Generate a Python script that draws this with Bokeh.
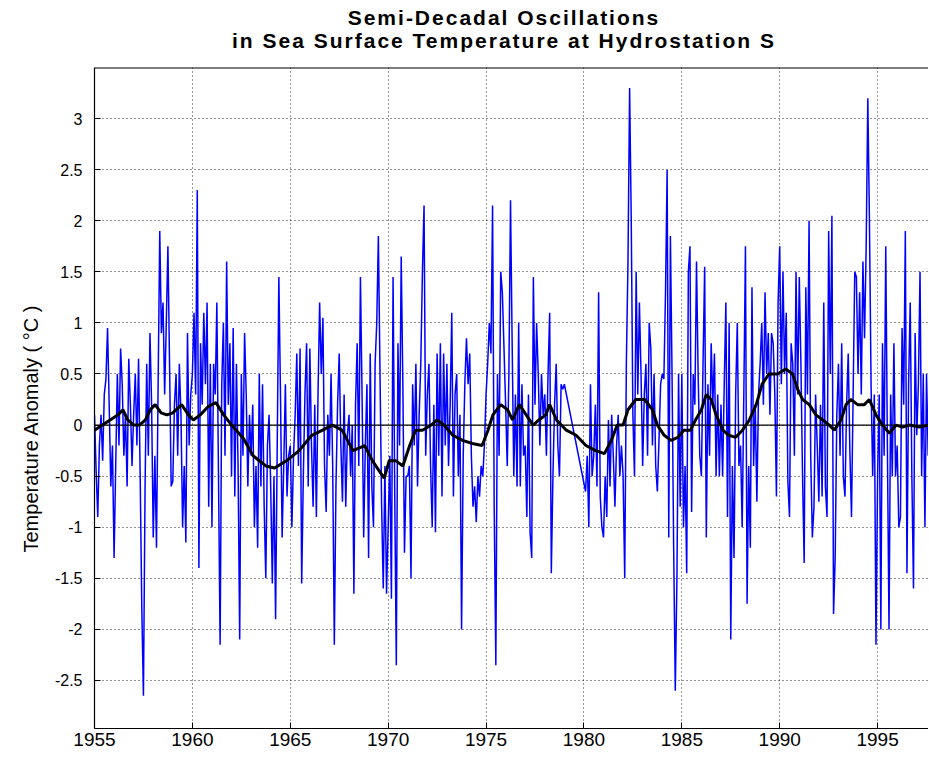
import math
from bokeh.plotting import figure
from bokeh.models import Range1d, FixedTicker, Span, Title, Div
from bokeh.layouts import column
from bokeh.embed import file_html
from bokeh.resources import INLINE

# ---------------- data ----------------
first_year = 1955
samples_per_year = 12  # monthly values, None = no sample

sst_anomaly = [
    # 1955
    0.1, -0.45, -0.9, -0.2, 0.1, -0.35, 0.3, 0.45, 0.95, 0.2, -0.6, -0.2,
    # 1956
    -1.3, -0.4, 0.5, -0.2, 0.75, 0.4, -0.3, 0.1, -0.6, 0.65, 0.2, -0.4,
    # 1957
    0.1, 0.5, -0.2, 0.65, -0.5, -1.8, -2.65, -0.6, 0.6, -0.3, 0.9, 0.2,
    # 1958
    -1.1, -0.3, -1.2, 0.4, 1.9, 0.9, 1.2, 0.3, 1.0, 1.75, 0.6, -0.6,
    # 1959
    -0.55, 0.2, 0.5, -0.3, 0.6, 0.1, -1.0, -0.4, -1.15, 0.9, -0.2, 0.3,
    # 1960
    0.5, 1.1, 0.3, 2.3, -1.4, 0.8, 0.2, 1.1, 0.4, 1.2, -0.8, 0.6,
    # 1961
    -1.0, 0.6, 0.3, 1.2, -0.5, -2.15, 0.4, 1.0, -0.3, 1.6, 0.2, 0.8,
    # 1962
    -0.5, 0.95, -0.7, 0.6, -0.4, -2.1, 0.5, -0.3, 0.9, 0.3, -0.6, 0.1,
    # 1963
    -0.3, 0.2, -1.0, -0.4, -1.2, 0.5, -0.6, 0.4, -0.8, -1.5, -0.2, 0.1,
    # 1964
    -0.6, -1.55, -0.5, -1.9, -0.2, 1.45, 0.3, -1.1, -0.4, 0.4, -0.7, -0.3,
    # 1965
    -0.2, -1.0, -0.3, 0.1, 0.7, -0.4, 0.75, -1.55, -0.5, 0.3, 0.8, -0.6,
    # 1966
    0.75, -0.2, -0.8, 0.2, -0.9, 0.3, 1.2, 0.5, 1.05, -0.4, -0.85, 0.1,
    # 1967
    -0.3, 0.5, -0.4, -2.15, -0.6, 0.2, 0.7, -0.2, -0.75, 0.3, -0.8, -0.1,
    # 1968
    0.1, -0.5, 0.0, -1.65, 0.2, 0.8, -0.4, 1.45, 0.3, -1.1, -0.2, 0.4,
    # 1969
    -1.3, 0.7, -0.6, -1.0, 0.6, 1.0, 1.85, 0.5, -0.8, -1.6, -0.4, -1.65,
    # 1970
    -1.0, -0.3, -1.7, 1.45, -0.6, -2.35, 0.8, -0.2, 1.65, 0.4, -1.25, -0.5,
    # 1971
    -0.5, -0.4, -1.5, 0.4, -0.2, 0.6, -0.6, 0.1, 0.6, 1.5, 2.15, -0.3,
    # 1972
    0.3, 0.6, -0.4, -1.0, 0.2, -1.05, 0.7, -0.3, 0.8, -0.7, 0.7, -0.2,
    # 1973
    0.6, -0.4, 0.2, 1.1, -0.7, 0.3, 0.5, -0.5, 0.1, -2.0, -0.3, 0.4,
    # 1974
    0.85, 0.4, 0.7, -0.3, -0.8, -0.6, -0.95, -0.5, -0.7, -0.4, -0.5, -0.2,
    # 1975
    0.3, 0.6, 1.0, 0.7, 2.15, -0.8, -2.35, 0.5, -0.3, 1.5, 1.3, 0.75,
    # 1976
    0.2, -0.4, 0.5, 2.2, 0.8, -0.5, 0.3, -0.6, 1.0, -0.6, 0.4, -0.3,
    # 1977
    -0.2, -0.9, 0.3, -1.05, -1.3, 1.45, 0.2, 1.0, 0.5, -0.2, 0.5, 0.1,
    # 1978
    0.3, -0.3, 0.5, 1.1, -1.45, -0.5, 0.2, 0.6, -0.2, -0.5, 0.4, 0.35,
    # 1979 (gap in sampling)
    0.4, None, None, None, None, None, None, None, None, None, None, None,
    # 1980
    None, -0.65, -0.3, -1.0, 0.4, -0.5, -0.3, 0.2, -0.6, 1.3, -0.7, -1.0,
    # 1981
    -1.1, -0.5, -0.9, 0.05, -0.6, 0.1, -0.3, -0.8, -0.2, 0.1, -0.5, -0.2,
    # 1982
    -0.5, -1.5, 0.6, 1.6, 3.3, 2.0, 0.1, -0.5, 1.5, 0.3, 1.2, 0.5,
    # 1983
    -0.4, 0.3, 0.6, -0.3, 1.0, 0.75, -0.2, 0.5, -0.4, -0.65, -0.15, 0.4,
    # 1984
    0.5, 0.45, 1.3, 2.5, -1.1, 1.85, 0.5, -1.2, -2.6, -1.5, 0.5, -0.8,
    # 1985
    0.5, -1.0, -0.4, -1.45, 1.5, 1.75, -0.85, 0.5, 0.2, 1.6, 0.5, -0.3,
    # 1986
    -0.5, 0.6, 1.55, -1.1, 0.4, -0.3, 0.8, 0.2, 0.7, -0.5, 0.3, -0.5,
    # 1987
    0.2, -0.5, 0.4, 1.2, -0.9, 1.0, -2.1, -0.4, -1.3, 0.3, 1.0, -0.4,
    # 1988
    -0.2, -1.0, 0.3, 1.75, -1.75, -0.4, -1.2, 1.35, -0.4, 0.2, -0.75, 0.3,
    # 1989
    0.6, 1.0, 0.2, 1.3, 0.5, 0.9, 0.1, 0.9, 0.8, 0.3, -0.7, 1.2,
    # 1990
    1.75, 0.4, 1.5, 0.5, 1.1, -0.55, -0.9, 0.8, 0.6, -0.3, 1.5, 0.3,
    # 1991
    1.45, 0.6, -0.5, -1.35, 1.35, 0.3, 2.0, -0.3, -1.1, -0.8, 0.3, -0.2,
    # 1992
    -0.75, 0.2, -0.7, 1.2, -0.6, -0.9, 1.9, 0.5, 2.05, -1.85, -1.3, 0.1,
    # 1993
    0.6, -0.3, 0.8, -0.5, -0.7, 0.2, 0.7, -0.25, -0.9, 0.3, 1.5, 1.45,
    # 1994
    0.5, 1.3, 0.3, 1.6, 0.85, 1.75, 3.2, 2.0, 0.4, -0.5, 0.3, -2.15,
    # 1995
    -0.5, 0.3, -2.0, 0.8, -0.3, 1.75, -0.2, -2.0, 0.3, -0.5, 0.8, -0.5,
    # 1996
    -0.2, -1.0, -0.9, 0.95, 0.2, 1.9, -1.45, 0.4, 1.2, -0.5, -1.6, 0.9,
    # 1997
    -0.1, 0.4, 1.5, -0.5, 0.5, -1.0, 0.5, -0.3,
]

smooth_years = [
    1955.0, 1955.4, 1955.8, 1956.2, 1956.45, 1956.7, 1957.0, 1957.3, 1957.6,
    1957.85, 1958.1, 1958.4, 1958.7, 1959.0, 1959.45, 1959.8, 1960.05, 1960.4,
    1960.8, 1961.2, 1961.6, 1962.0, 1962.6, 1963.1, 1963.75, 1964.2, 1964.8,
    1965.45, 1966.1, 1966.65, 1967.15, 1967.65, 1968.2, 1968.8, 1969.2,
    1969.55, 1969.8, 1970.05, 1970.4, 1970.75, 1971.1, 1971.4, 1971.75,
    1972.2, 1972.5, 1972.85, 1973.3, 1973.8, 1974.3, 1974.8, 1975.1, 1975.35,
    1975.75, 1976.1, 1976.35, 1976.7, 1977.05, 1977.4, 1977.7, 1978.05,
    1978.25, 1978.6, 1979.1, 1979.6, 1980.1, 1980.6, 1981.05, 1981.4, 1981.7,
    1982.0, 1982.25, 1982.65, 1983.1, 1983.5, 1983.75, 1984.1, 1984.45,
    1984.8, 1985.1, 1985.45, 1985.7, 1986.0, 1986.25, 1986.5, 1986.75,
    1987.1, 1987.4, 1987.75, 1988.1, 1988.45, 1988.8, 1989.1, 1989.45,
    1989.9, 1990.3, 1990.66, 1990.92, 1991.17, 1991.51, 1991.85, 1992.2,
    1992.53, 1992.79, 1993.13, 1993.39, 1993.64, 1993.98, 1994.32, 1994.58,
    1994.92, 1995.26, 1995.6, 1995.94, 1996.28, 1996.62, 1997.13, 1997.6,
]
smooth_anomaly = [
    -0.05, 0.0, 0.05, 0.1, 0.15, 0.05, 0.0, 0.0, 0.05,
    0.15, 0.2, 0.12, 0.1, 0.12, 0.2, 0.1, 0.05, 0.1,
    0.18, 0.22, 0.1, 0.0, -0.13, -0.3, -0.4, -0.42, -0.35,
    -0.25, -0.1, -0.05, 0.0, -0.05, -0.25, -0.2, -0.35,
    -0.45, -0.52, -0.35, -0.35, -0.4, -0.2, -0.05, -0.05,
    0.0, 0.05, 0.0, -0.1, -0.15, -0.18, -0.2, -0.05, 0.1,
    0.2, 0.15, 0.05, 0.2, 0.1, 0.0, 0.05, 0.1,
    0.2, 0.05, -0.05, -0.1, -0.2, -0.25, -0.28, -0.15, 0.0,
    0.0, 0.15, 0.25, 0.25, 0.15, 0.0, -0.1, -0.15,
    -0.12, -0.05, -0.05, 0.05, 0.15, 0.3, 0.25, 0.1,
    -0.05, -0.1, -0.12, -0.05, 0.05, 0.2, 0.4, 0.5,
    0.5, 0.55, 0.5, 0.35, 0.25, 0.2, 0.1, 0.05,
    0.0, -0.05, 0.05, 0.2, 0.25, 0.2, 0.2, 0.25,
    0.1, 0.0, -0.08, 0.0, -0.02, 0.0, -0.02, 0.0,
]

x_tick_years = [1955, 1960, 1965, 1970, 1975, 1980, 1985, 1990, 1995]
y_tick_values = [-2.5, -2, -1.5, -1, -0.5, 0, 0.5, 1, 1.5, 2, 2.5, 3]
y_tick_labels = ["-2.5", "-2", "-1.5", "-1", "-0.5", "0", "0.5", "1", "1.5", "2", "2.5", "3"]

title_line_1 = "Semi-Decadal Oscillations"
title_line_2 = "in Sea Surface Temperature at Hydrostation S"
y_label = "Temperature Anomaly ( \u00b0C )"

# ---------------- build series ----------------
t_vals, a_vals = [], []
for i, v in enumerate(sst_anomaly):
    if v is None:
        continue
    t_vals.append(first_year + i / samples_per_year)
    a_vals.append(v)

FONT = "Liberation Sans"
X0, X1 = 1955, 1997.6
Y0, Y1 = -2.97, 3.5
LEFT = 94
FRAME_W, FRAME_H = 834, 661
TITLE_TOP, TITLE_H = 6, 46

# two-line centred title (centred over the plotting box)
title_div = Div(
    text=title_line_1 + "<br>" + title_line_2,
    width=820, height=TITLE_H, margin=(TITLE_TOP, 0, 0, LEFT),
    styles={
        "text-align": "center", "font-family": FONT, "font-weight": "bold",
        "font-size": "21px", "line-height": "23px", "letter-spacing": "2px",
        "color": "black", "white-space": "nowrap",
    },
)

p = figure(
    frame_width=FRAME_W, frame_height=FRAME_H,
    output_backend="svg", toolbar_location=None,
    x_range=Range1d(X0, X1), y_range=Range1d(Y0, Y1),
    min_border_left=LEFT, min_border_right=0, min_border_top=15, min_border_bottom=0,
    background_fill_color="white", border_fill_color="white",
)
p.outline_line_color = None
p.title.visible = False

# axes
for ax in (p.xaxis[0], p.yaxis[0]):
    ax.axis_line_color = "black"
    ax.axis_line_width = 1.2
    ax.major_tick_in = 6
    ax.major_tick_out = 0
    ax.major_tick_line_color = "black"
    ax.minor_tick_line_color = None
    ax.major_label_text_font = FONT
    ax.major_label_text_color = "black"

p.xaxis.ticker = FixedTicker(ticks=x_tick_years)
p.xaxis.major_label_text_font_size = "19px"
p.xaxis.major_label_standoff = 4

p.yaxis.ticker = FixedTicker(ticks=y_tick_values)
p.yaxis.major_label_overrides = {v: s for v, s in zip(y_tick_values, y_tick_labels)}
p.yaxis.major_label_text_font_size = "16px"
p.yaxis.major_label_standoff = 12

# y-axis title (rotated, starts a little below the box centre as in the reference)
p.add_layout(Title(text=y_label, align="left", offset=176, standoff=20,
                   text_font=FONT, text_font_size="20px", text_font_style="normal",
                   text_color="black"), "left")

# dotted grid
for g in (p.xgrid[0], p.ygrid[0]):
    g.grid_line_color = "black"
    g.grid_line_dash = "1 3"
    g.grid_line_width = 1
    g.grid_line_alpha = 0.85
p.xgrid.ticker = FixedTicker(ticks=x_tick_years)
p.ygrid.ticker = FixedTicker(ticks=y_tick_values)

# top border of the axes box
p.add_layout(Span(location=Y1, dimension="width", line_color="black", line_width=2))

# data
p.line(t_vals, a_vals, line_color="#0000ff", line_width=1.5)
p.add_layout(Span(location=0, dimension="width", line_color="black", line_width=1.2))
p.line(smooth_years, smooth_anomaly, line_color="black", line_width=3)

layout = column(title_div, p, spacing=0)
open("out.html", "w").write(file_html(layout, INLINE))
